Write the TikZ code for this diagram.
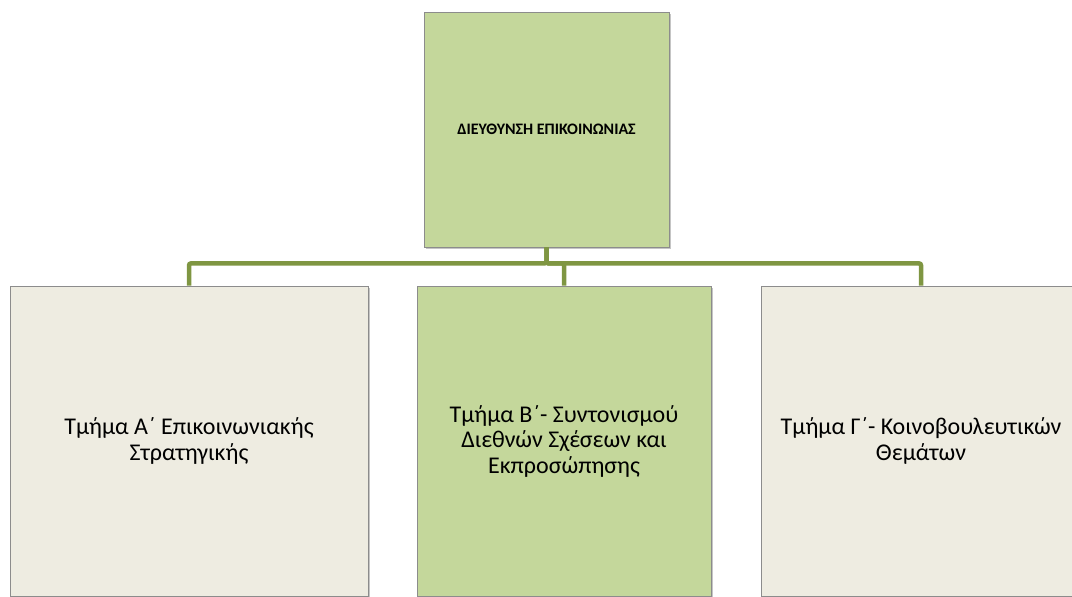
\documentclass[tikz,border=0pt]{standalone}
\usepackage{fontspec}
\setmainfont{Carlito}
\usetikzlibrary{shadows}
\definecolor{oliveline}{RGB}{127,150,66}
\definecolor{leafgreen}{RGB}{196,215,155}
\definecolor{paper}{RGB}{238,236,225}
\definecolor{edgegray}{RGB}{140,140,140}

\begin{document}
\begin{tikzpicture}[
  x=1pt,y=-1pt,
  every node/.style={font=\fontsize{24}{25.5}\selectfont},
  unit/.style={draw=edgegray,line width=0.8pt,align=center,inner sep=0pt,
    drop shadow={shadow xshift=1.5pt,shadow yshift=-2pt,fill=black!45,opacity=0.5}},
  head/.style={unit,fill=leafgreen,minimum width=245pt,minimum height=235pt,
    font=\fontsize{16}{19}\selectfont\bfseries},
  dept/.style={unit,fill=paper,minimum height=310pt},
  link/.style={draw=oliveline,line width=4.5pt,rounded corners=2pt}
]
\useasboundingbox (0,0) rectangle (1072,597);
\clip (0,0) rectangle (1072,597);
\node[head] (dir) at (546.5,129.5) {ΔΙΕΥΘΥΝΣΗ ΕΠΙΚΟΙΝΩΝΙΑΣ};
\node[dept,minimum width=358pt] (tmA) at (189,441) {Τμήμα Α΄ Επικοινωνιακής\\Στρατηγικής};
\node[dept,fill=leafgreen,minimum width=294pt] (tmB) at (564,441) {Τμήμα Β΄- Συντονισμού\\Διεθνών Σχέσεων και\\Εκπροσώπησης};
\node[dept,minimum width=320pt] (tmC) at (921,441) {Τμήμα Γ΄- Κοινοβουλευτικών\\Θεμάτων};
% bus lines to the three departments
\draw[link] (dir.south) -- ++(0,16) -| (tmA.north);
\draw[link] (dir.south) -- ++(0,16) -| (tmB.north);
\draw[link] (dir.south) -- ++(0,16) -| (tmC.north);
\end{tikzpicture}
\end{document}
